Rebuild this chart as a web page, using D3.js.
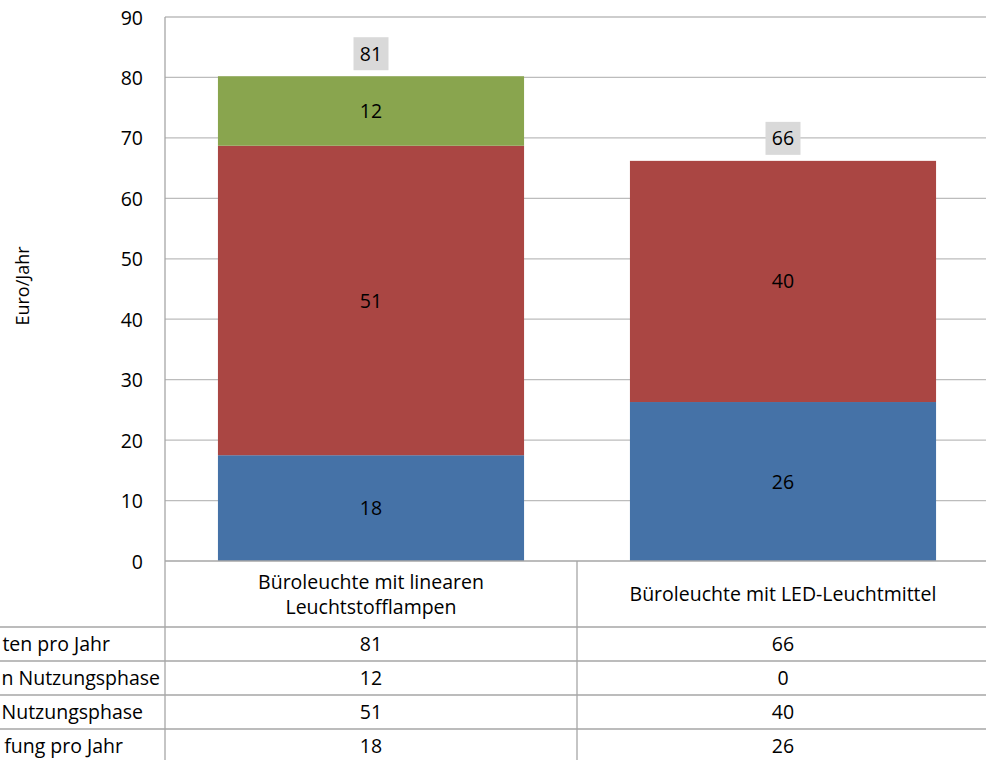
<!DOCTYPE html>
<html>
<head>
<meta charset="utf-8">
<script src="https://cdn.jsdelivr.net/npm/d3@7"></script>
<style>
  body { margin: 0; background: #fff; }
  svg { display: block; }
  text { font-family: "Open Sans", sans-serif; fill: #000; }
</style>
</head>
<body>
<div id="chart"></div>
<script>
// categories and series (bar heights)
var categories = ["Büroleuchte mit linearen Leuchtstofflampen", "Büroleuchte mit LED-Leuchtmittel"];
var categoryLines = [["Büroleuchte mit linearen", "Leuchtstofflampen"], ["Büroleuchte mit LED-Leuchtmittel"]];
var anschaffung = [17.5, 26.3];
var energie = [51.2, 39.9];
var leuchtmittel = [11.5, 0];
// values printed in labels and the data table
var anschaffungLabel = [18, 26];
var energieLabel = [51, 40];
var leuchtmittelLabel = [12, 0];
var totalLabel = [81, 66];
// row names of the data table, as far as the picture shows them (cut at the left edge)
var rowNames = ["ten pro Jahr", "n Nutzungsphase", "Nutzungsphase", "fung pro Jahr"];
var yTicks = [0, 10, 20, 30, 40, 50, 60, 70, 80, 90];

var width = 986, height = 760;
var plot = {left: 165, top: 17, right: 989, bottom: 561};
var fontSize = 19.5;
// where each cut row name ends on the left side of the table
var rowNameEnd = [110, 160, 143, 123];

var svg = d3.select("#chart").append("svg")
    .attr("width", width)
    .attr("height", height);

var y = d3.scaleLinear().domain([0, 90]).range([plot.bottom, plot.top]);
var x = d3.scaleBand().domain(categories).range([plot.left, plot.right]).padding(0);
var barW = x.bandwidth() * 0.743;

var series = [
    {key: "anschaffung", values: anschaffung, labels: anschaffungLabel, color: "#4572A7"},
    {key: "energie", values: energie, labels: energieLabel, color: "#AA4643"},
    {key: "leuchtmittel", values: leuchtmittel, labels: leuchtmittelLabel, color: "#89A54E"}
];

// gridlines
svg.append("g").selectAll("line")
    .data(yTicks.filter(function (d) { return d > 0; }))
    .enter().append("line")
    .attr("x1", plot.left).attr("x2", plot.right)
    .attr("y1", function (d) { return y(d); }).attr("y2", function (d) { return y(d); })
    .attr("stroke", "#bcbcbc").attr("stroke-width", 1.3);

// y axis
var yAxis = d3.axisLeft(y).tickValues(yTicks).tickSize(0).tickPadding(22);
var yg = svg.append("g").attr("transform", "translate(" + plot.left + ",0)").call(yAxis);
yg.select(".domain").remove();
yg.selectAll("text").style("font-size", "19.5px").style("font-family", "Open Sans").attr("dy", "0.36em");

svg.append("text")
    .attr("transform", "translate(29,286) rotate(-90)")
    .attr("text-anchor", "middle")
    .style("font-size", "18px")
    .text("Euro/Jahr");

// stacked bars
var stack = categories.map(function (c, i) {
    var base = 0;
    return series.map(function (s) {
        var seg = {cat: c, y0: base, y1: base + s.values[i], label: s.labels[i], color: s.color};
        base += s.values[i];
        return seg;
    });
});

var bars = svg.append("g").selectAll("g")
    .data(stack).enter().append("g");

bars.selectAll("rect")
    .data(function (d) { return d.filter(function (s) { return s.y1 > s.y0; }); })
    .enter().append("rect")
    .attr("x", function (d) { return x(d.cat) + (x.bandwidth() - barW) / 2; })
    .attr("width", barW)
    .attr("y", function (d) { return y(d.y1); })
    .attr("height", function (d) { return y(d.y0) - y(d.y1); })
    .attr("fill", function (d) { return d.color; });

bars.selectAll("text")
    .data(function (d) { return d.filter(function (s) { return s.y1 > s.y0; }); })
    .enter().append("text")
    .attr("x", function (d) { return x(d.cat) + x.bandwidth() / 2; })
    .attr("y", function (d) { return (y(d.y0) + y(d.y1)) / 2; })
    .attr("dy", "0.36em")
    .attr("text-anchor", "middle")
    .style("font-size", fontSize + "px")
    .text(function (d) { return d.label; });

// total labels with grey box
var totals = svg.append("g").selectAll("g")
    .data(categories).enter().append("g")
    .attr("transform", function (c, i) {
        var top = y(anschaffung[i] + energie[i] + leuchtmittel[i]);
        return "translate(" + (x(c) + x.bandwidth() / 2) + "," + (top - 6 - 16.5) + ")";
    });
totals.append("rect")
    .attr("x", -17.5).attr("y", -16.5).attr("width", 35).attr("height", 33)
    .attr("fill", "#d9d9d9");
totals.append("text")
    .attr("text-anchor", "middle").attr("dy", "0.36em")
    .style("font-size", fontSize + "px")
    .text(function (c, i) { return totalLabel[i]; });

// data table
var table = svg.append("g");
var headerBottom = 627, rowH = 34;
var rowValues = [totalLabel, leuchtmittelLabel, energieLabel, anschaffungLabel];
var lineColor = "#a6a6a6";

table.append("line")
    .attr("x1", plot.left).attr("x2", plot.left).attr("y1", plot.top).attr("y2", height)
    .attr("stroke", lineColor).attr("stroke-width", 1.3);
table.append("line")
    .attr("x1", plot.left).attr("x2", plot.right).attr("y1", plot.bottom).attr("y2", plot.bottom)
    .attr("stroke", lineColor).attr("stroke-width", 1.3);
table.selectAll(".vsep")
    .data(categories.slice(1)).enter().append("line")
    .attr("x1", function (c) { return x(c); }).attr("x2", function (c) { return x(c); })
    .attr("y1", plot.bottom).attr("y2", height)
    .attr("stroke", lineColor).attr("stroke-width", 1.3);
table.selectAll(".hsep")
    .data(rowNames).enter().append("line")
    .attr("x1", 0).attr("x2", plot.right)
    .attr("y1", function (d, i) { return headerBottom + i * rowH; })
    .attr("y2", function (d, i) { return headerBottom + i * rowH; })
    .attr("stroke", lineColor).attr("stroke-width", 1.3);

// header: category names
categories.forEach(function (c, i) {
    var lines = categoryLines[i];
    var mid = (plot.bottom + headerBottom) / 2;
    var lh = 25;
    lines.forEach(function (t, j) {
        table.append("text")
            .attr("x", x(c) + x.bandwidth() / 2)
            .attr("y", mid + (j - (lines.length - 1) / 2) * lh)
            .attr("dy", "0.36em")
            .attr("text-anchor", "middle")
            .style("font-size", fontSize + "px")
            .text(t);
    });
});

// row names and values
rowNames.forEach(function (name, r) {
    var cy = headerBottom + r * rowH + rowH / 2;
    table.append("text")
        .attr("x", rowNameEnd[r]).attr("y", cy).attr("dy", "0.36em")
        .attr("text-anchor", "end")
        .style("font-size", fontSize + "px")
        .text(name);
    categories.forEach(function (c, i) {
        table.append("text")
            .attr("x", x(c) + x.bandwidth() / 2).attr("y", cy).attr("dy", "0.36em")
            .attr("text-anchor", "middle")
            .style("font-size", fontSize + "px")
            .text(rowValues[r][i]);
    });
});
</script>
</body>
</html>
